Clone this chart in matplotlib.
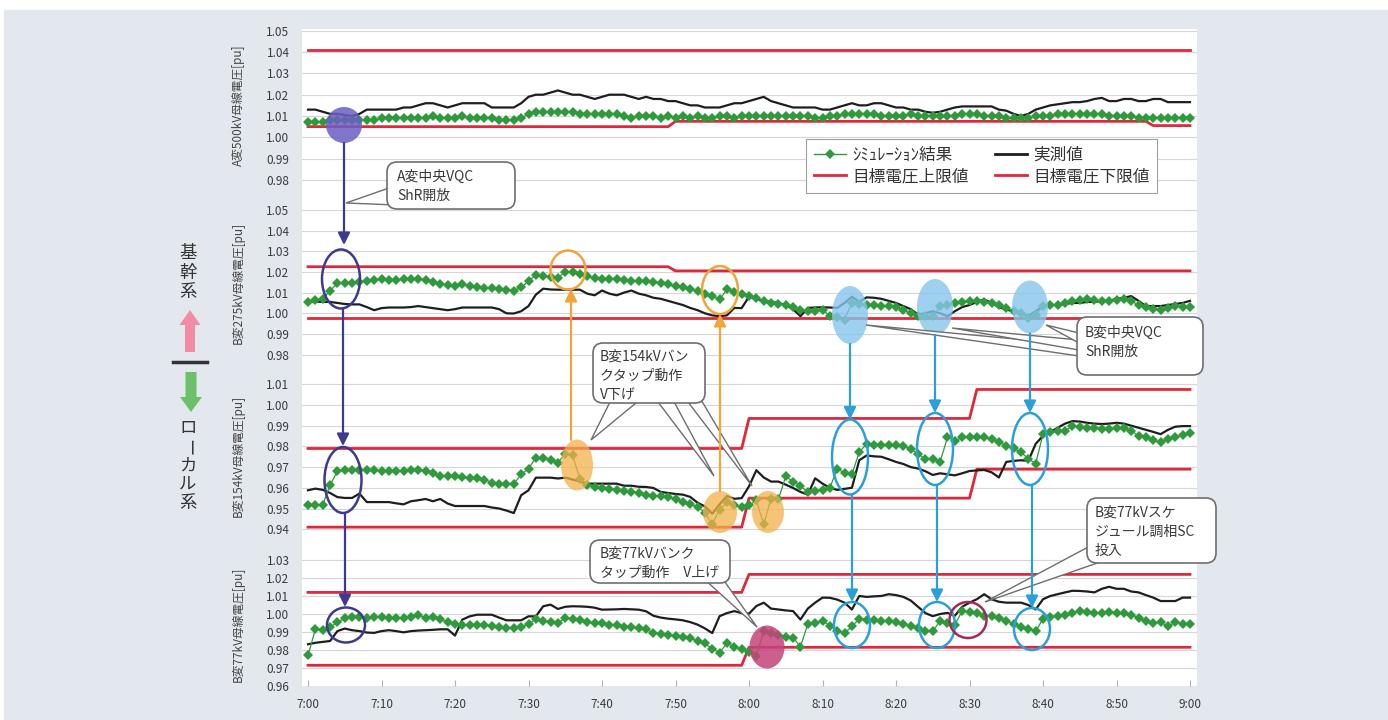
import matplotlib
matplotlib.use("Agg")
import matplotlib.pyplot as plt
from matplotlib.patches import Ellipse, FancyBboxPatch, Polygon, Rectangle, FancyArrow
from matplotlib.lines import Line2D
import numpy as np

plt.rcParams['font.family'] = ['Noto Sans CJK JP', 'DejaVu Sans']

# time axis: minutes after 7:00, one sample per minute
minutes = np.arange(0, 121)
tick_min = [0, 10, 20, 30, 40, 50, 60, 70, 80, 90, 100, 110, 120]
tick_lbl = ['7:00', '7:10', '7:20', '7:30', '7:40', '7:50', '8:00',
            '8:10', '8:20', '8:30', '8:40', '8:50', '9:00']

# A変500kV
sim_a500 = [
    1.007, 1.007, 1.007, 1.008, 1.008, 1.008, 1.008, 1.008, 1.008, 1.008,
    1.009, 1.009, 1.009, 1.009, 1.009, 1.009, 1.009, 1.010, 1.009, 1.009,
    1.009, 1.010, 1.009, 1.009, 1.009, 1.009, 1.008, 1.008, 1.008, 1.009,
    1.011, 1.012, 1.012, 1.012, 1.012, 1.012, 1.012, 1.011, 1.011, 1.011,
    1.011, 1.011, 1.011, 1.010, 1.009, 1.010, 1.010, 1.010, 1.009, 1.010,
    1.009, 1.010, 1.009, 1.010, 1.009, 1.009, 1.010, 1.010, 1.009, 1.010,
    1.010, 1.010, 1.010, 1.010, 1.010, 1.010, 1.010, 1.010, 1.010, 1.009,
    1.009, 1.010, 1.010, 1.011, 1.011, 1.011, 1.011, 1.011, 1.010, 1.010,
    1.010, 1.010, 1.011, 1.010, 1.010, 1.010, 1.010, 1.010, 1.010, 1.011,
    1.011, 1.011, 1.010, 1.010, 1.010, 1.009, 1.009, 1.009, 1.009, 1.010,
    1.010, 1.010, 1.011, 1.011, 1.011, 1.011, 1.011, 1.011, 1.011, 1.010,
    1.010, 1.010, 1.010, 1.009, 1.009, 1.009, 1.009, 1.009, 1.009, 1.009, 1.009]
meas_a500 = [
    1.013, 1.013, 1.012, 1.011, 1.011, 1.0105, 1.010, 1.011, 1.013, 1.013,
    1.013, 1.013, 1.013, 1.014, 1.014, 1.015, 1.016, 1.016, 1.015, 1.014,
    1.015, 1.016, 1.016, 1.016, 1.016, 1.014, 1.014, 1.014, 1.014, 1.016,
    1.019, 1.020, 1.020, 1.021, 1.022, 1.021, 1.020, 1.020, 1.019, 1.018,
    1.019, 1.020, 1.020, 1.020, 1.019, 1.018, 1.019, 1.018, 1.018, 1.017,
    1.017, 1.016, 1.015, 1.015, 1.014, 1.014, 1.014, 1.015, 1.016, 1.016,
    1.017, 1.018, 1.019, 1.017, 1.016, 1.015, 1.014, 1.014, 1.014, 1.014,
    1.013, 1.013, 1.014, 1.015, 1.016, 1.015, 1.015, 1.016, 1.016, 1.015,
    1.014, 1.014, 1.013, 1.013, 1.012, 1.0115, 1.012, 1.013, 1.014, 1.0145,
    1.0145, 1.0145, 1.0145, 1.0145, 1.013, 1.0125, 1.011, 1.010, 1.011, 1.013,
    1.014, 1.015, 1.0155, 1.016, 1.0165, 1.0165, 1.017, 1.018, 1.0185, 1.017,
    1.017, 1.018, 1.018, 1.017, 1.017, 1.018, 1.018, 1.0165, 1.0165, 1.0165, 1.0165]
a500_up_t = [0, 120]
a500_up_v = [1.041, 1.041]
a500_lo_t = [0, 49, 50, 114, 115, 120]
a500_lo_v = [1.005, 1.005, 1.0075, 1.0075, 1.0055, 1.0055]

# B変275kV
sim_b275 = [
    1.0055, 1.0065, 1.0068, 1.011, 1.0145, 1.0148, 1.0148, 1.015, 1.0155, 1.016,
    1.0164, 1.016, 1.016, 1.0165, 1.0167, 1.0167, 1.016, 1.015, 1.0143, 1.0135,
    1.013, 1.014, 1.013, 1.0125, 1.0122, 1.012, 1.0118, 1.0114, 1.011, 1.0125,
    1.0155, 1.0185, 1.018, 1.0175, 1.0172, 1.020, 1.020, 1.019, 1.0178, 1.017,
    1.0168, 1.0168, 1.0165, 1.016, 1.0158, 1.0155, 1.0155, 1.015, 1.0145, 1.014,
    1.013, 1.0126, 1.0115, 1.0107, 1.0095, 1.0083, 1.0067, 1.0115, 1.0105, 1.0095,
    1.0085, 1.0075, 1.006, 1.005, 1.0045, 1.004, 1.003, 1.0018, 1.001, 1.0012,
    1.0018, 0.9986, 0.998, 0.997, 1.005, 1.0045, 1.004, 1.004, 1.0035, 1.0035,
    1.003, 1.0018, 1.000, 0.9986, 0.9986, 0.9986, 1.0035, 1.004, 1.005, 1.0055,
    1.006, 1.006, 1.0055, 1.005, 1.004, 1.0026, 1.001, 1.000, 0.9978, 0.999,
    1.0035, 1.004, 1.004, 1.005, 1.006, 1.0062, 1.0067, 1.0062, 1.006, 1.006,
    1.0062, 1.0067, 1.006, 1.004, 1.003, 1.002, 1.0018, 1.0025, 1.0035, 1.003, 1.003]
meas_b275 = [
    1.0057, 1.0057, 1.0055, 1.0055, 1.005, 1.0045, 1.0043, 1.0043, 1.003, 1.0015,
    1.0025, 1.0028, 1.0028, 1.0028, 1.003, 1.0035, 1.003, 1.0025, 1.002, 1.0015,
    1.002, 1.0028, 1.0028, 1.0028, 1.0028, 1.0028, 1.002, 1.000, 0.9999, 1.001,
    1.0035, 1.009, 1.0119, 1.0115, 1.0114, 1.0114, 1.0114, 1.0114, 1.0095, 1.0087,
    1.011, 1.0095, 1.0087, 1.010, 1.011, 1.0095, 1.0087, 1.0075, 1.007, 1.006,
    1.005, 1.004, 1.0026, 1.0015, 1.000, 0.999, 0.9986, 0.999, 1.0026, 1.0025,
    1.008, 1.007, 1.006, 1.0055, 1.005, 1.004, 1.002, 0.9986, 1.0026, 1.0028,
    1.0029, 1.0028, 1.0026, 1.005, 1.008, 1.0055, 1.0077, 1.0075, 1.007, 1.006,
    1.005, 1.0035, 1.002, 0.9994, 1.000, 1.001, 1.000, 0.9986, 1.001, 1.003,
    1.004, 1.0055, 1.0067, 1.005, 1.003, 1.0018, 1.001, 0.9995, 0.9986, 1.001,
    1.0035, 1.004, 1.004, 1.0045, 1.005, 1.005, 1.0055, 1.0055, 1.006, 1.006,
    1.007, 1.0075, 1.0083, 1.006, 1.0035, 1.0035, 1.0035, 1.004, 1.0045, 1.005, 1.006]
b275_up_t = [0, 49, 50, 120]
b275_up_v = [1.0225, 1.0225, 1.0205, 1.0205]
b275_lo_t = [0, 120]
b275_lo_v = [0.9975, 0.9975]

# B変154kV
sim_b154 = [
    0.9516, 0.9518, 0.9518, 0.9612, 0.9681, 0.9687, 0.9687, 0.9687, 0.9687, 0.9685,
    0.9683, 0.9683, 0.968, 0.9683, 0.9687, 0.9687, 0.9683, 0.967, 0.9655, 0.9655,
    0.9658, 0.9652, 0.9647, 0.9647, 0.964, 0.9625, 0.962, 0.962, 0.9618, 0.9665,
    0.9692, 0.9746, 0.9746, 0.9733, 0.9722, 0.9765, 0.9757, 0.9644, 0.9615, 0.9605,
    0.9598, 0.9595, 0.959, 0.9585, 0.958, 0.9575, 0.9565, 0.956, 0.9558, 0.9555,
    0.9545, 0.953, 0.952, 0.9508, 0.948, 0.9424, 0.9495, 0.953, 0.9515, 0.9505,
    0.9515, 0.9539, 0.9424, 0.9547, 0.9545, 0.9655, 0.963, 0.961, 0.9578, 0.9585,
    0.959, 0.9599, 0.9693, 0.967, 0.9665, 0.9772, 0.9812, 0.9807, 0.9807, 0.9807,
    0.9805, 0.980, 0.9788, 0.9765, 0.9738, 0.9738, 0.9725, 0.9843, 0.9827, 0.9843,
    0.9843, 0.9843, 0.9843, 0.9835, 0.982, 0.9804, 0.979, 0.9772, 0.974, 0.9717,
    0.9859, 0.987, 0.9872, 0.9875, 0.9898, 0.9895, 0.989, 0.9888, 0.9886, 0.9886,
    0.9888, 0.989, 0.9875, 0.985, 0.9843, 0.983, 0.982, 0.9835, 0.9843, 0.9855, 0.9867]
meas_b154 = [
    0.9588, 0.9596, 0.959, 0.9575, 0.9555, 0.9551, 0.9551, 0.9572, 0.9531, 0.9531,
    0.9531, 0.9531, 0.9525, 0.952, 0.9535, 0.954, 0.9546, 0.9535, 0.9546, 0.9524,
    0.9512, 0.9512, 0.9512, 0.9512, 0.9512, 0.9505, 0.950, 0.949, 0.9478, 0.9564,
    0.9588, 0.9649, 0.9649, 0.9649, 0.9645, 0.9649, 0.964, 0.963, 0.962, 0.962,
    0.962, 0.962, 0.962, 0.961, 0.961, 0.9605, 0.9604, 0.9599, 0.958, 0.9575,
    0.957, 0.9567, 0.9556, 0.9528, 0.951, 0.9475, 0.952, 0.956, 0.9547, 0.955,
    0.9607, 0.9685, 0.965, 0.963, 0.963, 0.9615, 0.9599, 0.958, 0.9567, 0.9646,
    0.962, 0.960, 0.959, 0.9595, 0.960, 0.9733, 0.9756, 0.9752, 0.975, 0.9738,
    0.9725, 0.9715, 0.970, 0.9693, 0.968, 0.9662, 0.967, 0.9665, 0.966, 0.967,
    0.9681, 0.9684, 0.9686, 0.9675, 0.965, 0.9725, 0.973, 0.9733, 0.973, 0.9812,
    0.9851, 0.987, 0.989, 0.991, 0.9922, 0.992, 0.9914, 0.991, 0.9908, 0.991,
    0.9914, 0.991, 0.990, 0.989, 0.988, 0.987, 0.9859, 0.988, 0.9895, 0.9898, 0.9898]
b154_up_t = [0, 59, 60, 90, 91, 120]
b154_up_v = [0.979, 0.979, 0.9935, 0.9935, 1.0075, 1.0075]
b154_lo_t = [0, 59, 60, 90, 91, 120]
b154_lo_v = [0.941, 0.941, 0.955, 0.955, 0.969, 0.969]

# B変77kV
sim_b77 = [
    0.977, 0.9915, 0.9912, 0.9925, 0.9955, 0.9975, 0.9983, 0.9986, 0.998, 0.9986,
    0.9986, 0.9975, 0.998, 0.998, 0.9983, 0.9993, 0.998, 0.9986, 0.997, 0.9955,
    0.9947, 0.994, 0.994, 0.994, 0.994, 0.9935, 0.993, 0.9924, 0.992, 0.993,
    0.9943, 0.997, 0.9963, 0.9958, 0.995, 0.9978, 0.9972, 0.9965, 0.9955, 0.995,
    0.9948, 0.994, 0.9938, 0.993, 0.9925, 0.992, 0.9915, 0.9894, 0.989, 0.9885,
    0.988, 0.9872, 0.9865, 0.985, 0.9837, 0.9805, 0.9786, 0.9837, 0.9818, 0.9805,
    0.979, 0.9768, 0.9903, 0.9894, 0.9885, 0.9872, 0.9869, 0.9818, 0.9944, 0.995,
    0.9963, 0.9935, 0.9905, 0.9894, 0.9931, 0.9974, 0.9969, 0.9965, 0.996, 0.996,
    0.9956, 0.9945, 0.9931, 0.992, 0.9907, 0.9903, 0.9963, 0.995, 0.9941, 1.0016,
    1.001, 1.0006, 0.999, 0.999, 0.9975, 0.996, 0.9945, 0.993, 0.9918, 0.9903,
    0.9974, 0.9985, 0.9988, 0.9995, 1.0005, 1.0016, 1.001, 1.0008, 1.0005, 1.001,
    1.0008, 1.0005, 0.9995, 0.998, 0.996, 0.995, 0.9956, 0.9931, 0.9956, 0.9944, 0.9944]
meas_b77 = [
    0.9832, 0.984, 0.9845, 0.985, 0.9905, 0.9919, 0.991, 0.9905, 0.9897, 0.9895,
    0.9905, 0.991, 0.9905, 0.9898, 0.9905, 0.9908, 0.991, 0.9912, 0.9915, 0.9915,
    0.988, 0.9969, 0.9987, 0.9996, 0.9996, 0.9996, 0.998, 0.9965, 0.9965, 0.9965,
    0.9987, 0.9987, 1.0043, 1.0052, 1.0028, 1.004, 1.0043, 1.0042, 1.004, 1.0035,
    1.0024, 1.0025, 1.0026, 1.0028, 1.0026, 1.0024, 1.0015, 0.999, 0.998, 0.9974,
    0.997, 0.9965, 0.9955, 0.9941, 0.992, 0.9894, 0.9988, 1.0005, 1.0016, 1.0005,
    1.0002, 1.0044, 1.0063, 1.003, 1.0025, 1.002, 1.0016, 0.9969, 1.003, 1.0063,
    1.0091, 1.009, 1.008, 1.0063, 1.0025, 1.010, 1.0095, 1.0098, 1.010, 1.011,
    1.0105, 1.0095, 1.0075, 1.004, 1.0005, 0.9988, 1.000, 1.0006, 0.999, 1.004,
    1.0063, 1.0082, 1.011, 1.0082, 1.0068, 1.0063, 1.0063, 1.0063, 1.005, 1.0025,
    1.0082, 1.010, 1.011, 1.012, 1.0129, 1.0128, 1.0125, 1.012, 1.014, 1.0151,
    1.014, 1.014, 1.0125, 1.012, 1.0105, 1.0091, 1.0072, 1.0072, 1.0072, 1.0091, 1.0091]
b77_up_t = [0, 59, 60, 120]
b77_up_v = [1.012, 1.012, 1.022, 1.022]
b77_lo_t = [0, 59, 60, 120]
b77_lo_v = [0.9715, 0.9715, 0.9815, 0.9815]

panel_labels = ['A変500kV母線電圧[pu]', 'B変275kV母線電圧[pu]',
                'B変154kV母線電圧[pu]', 'B変77kV母線電圧[pu]']
legend_labels = ['ｼﾐｭﾚｰｼｮﾝ結果', '実測値', '目標電圧上限値', '目標電圧下限値']

GREEN = '#2e9a3c'
BLACK = '#1e1e1e'
RED = '#e0283a'

W, H = 1388, 720
fig = plt.figure(figsize=(W / 100, H / 100), dpi=100, facecolor='white')

bg = fig.add_axes([0, 0, 1, 1], zorder=-5)
bg.set_xlim(0, W)
bg.set_ylim(H, 0)
bg.axis('off')
bg.add_patch(Rectangle((4, 10), W - 4, H - 10, color='#e3e8ee'))

# panel layout in pixels (top, bottom) and y limits
x_left, x_right = 302, 1197
px_per_min = 7.35
xlim = ((x_left - 308) / px_per_min, (x_right - 308) / px_per_min)

panels = [
    dict(top=29, bot=195, ylim=(0.97291, 1.05085), ticks=np.arange(0.98, 1.0501, 0.01),
         sim=sim_a500, meas=meas_a500, up=(a500_up_t, a500_up_v), lo=(a500_lo_t, a500_lo_v),
         lab_y=105),
    dict(top=195, bot=370, ylim=(0.97261, 1.05715), ticks=np.arange(0.98, 1.0501, 0.01),
         sim=sim_b275, meas=meas_b275, up=(b275_up_t, b275_up_v), lo=(b275_lo_t, b275_lo_v),
         lab_y=283),
    dict(top=370, bot=545, ylim=(0.93237, 1.0169), ticks=np.arange(0.94, 1.0101, 0.01),
         sim=sim_b154, meas=meas_b154, up=(b154_up_t, b154_up_v), lo=(b154_lo_t, b154_lo_v),
         lab_y=456),
    dict(top=545, bot=686, ylim=(0.96, 1.03833), ticks=np.arange(0.96, 1.0301, 0.01),
         sim=sim_b77, meas=meas_b77, up=(b77_up_t, b77_up_v), lo=(b77_lo_t, b77_lo_v),
         lab_y=624),
]

axes = []
for i, p in enumerate(panels):
    ax = fig.add_axes([x_left / W, 1 - p['bot'] / H, (x_right - x_left) / W, (p['bot'] - p['top']) / H])
    ax.set_facecolor('white')
    ax.set_xlim(*xlim)
    ax.set_ylim(*p['ylim'])
    for s in ax.spines.values():
        s.set_visible(False)
    ax.set_yticks(p['ticks'])
    ax.set_yticklabels(['%.2f' % t for t in p['ticks']], fontsize=8.5, color='#3a3a3a')
    ax.tick_params(axis='y', length=0, pad=9)
    ax.yaxis.grid(True, color='#d6d6d6', lw=0.8)
    ax.set_axisbelow(True)
    ax.set_xticks(tick_min)
    if i == 3:
        ax.set_xticklabels(tick_lbl, fontsize=8.5, color='#3a3a3a')
        ax.tick_params(axis='x', direction='in', length=4, color='#b0b0b0', pad=9)
    else:
        ax.tick_params(axis='x', length=0, labelbottom=False)
    ax.plot(p['up'][0], p['up'][1], color=RED, lw=2.0, zorder=2)
    ax.plot(p['lo'][0], p['lo'][1], color=RED, lw=2.0, zorder=2)
    ax.plot(minutes, p['meas'], color=BLACK, lw=1.6, zorder=3)
    ax.plot(minutes, p['sim'], color=GREEN, lw=0.9, marker='D', markersize=4.8,
            markeredgewidth=0, zorder=4)
    axes.append(ax)

handles = [
    Line2D([], [], color=GREEN, lw=1, marker='D', markersize=4.8, markeredgewidth=0),
    Line2D([], [], color=RED, lw=2),
    Line2D([], [], color=BLACK, lw=2),
    Line2D([], [], color=RED, lw=2),
]
leg = axes[0].legend(handles, [legend_labels[0], legend_labels[2], legend_labels[1], legend_labels[3]],
                     ncol=2, loc='upper left',
                     bbox_to_anchor=((798 - x_left) / (x_right - x_left), (195 - 131) / (195 - 29)),
                     fontsize=12, frameon=True, fancybox=False, framealpha=1,
                     edgecolor='#a0a0a0', handlelength=1.9, columnspacing=1.6,
                     labelspacing=0.25, borderpad=0.45, handletextpad=0.4)
leg.get_frame().set_linewidth(0.8)
for t in leg.get_texts():
    t.set_color('#333333')

# overlay for annotations, in pixel coordinates (y downwards)
ov = fig.add_axes([0, 0, 1, 1], zorder=10)
ov.set_xlim(0, W)
ov.set_ylim(H, 0)
ov.axis('off')
ov.patch.set_alpha(0)

for p, lab in zip(panels, panel_labels):
    ov.text(238, p['lab_y'], lab, rotation=90, ha='center', va='center', fontsize=8.5, color='#444444')


def ell(cx, cy, w, h, ec='none', fc='none', alpha=1.0, lw=1.8):
    ov.add_patch(Ellipse((cx, cy), w, h, edgecolor=ec, facecolor=fc, alpha=alpha, lw=lw))


def arrow(x, y0, y1, color):
    ov.annotate('', xy=(x, y1), xytext=(x, y0),
                arrowprops=dict(arrowstyle='-|>', color=color, lw=1.6, mutation_scale=18,
                                shrinkA=0, shrinkB=0))


def callout(x0, y0, x1, y1, lines, tx, ty, wedges):
    for wd in wedges:
        ov.add_patch(Polygon(wd, closed=True, facecolor='white', edgecolor='#6e6e6e', lw=1.0))
    ov.add_patch(FancyBboxPatch((x0, y0), x1 - x0, y1 - y0,
                                boxstyle='round,pad=0,rounding_size=10',
                                facecolor='white', edgecolor='#6e6e6e', lw=1.2))
    for k, ln in enumerate(lines):
        ov.text(tx, ty + k * 19, ln, ha='left', va='center', fontsize=10, color='#3a3a3a')


PURPLE = '#3d3a8f'
ORANGE = '#f0a43a'
BLUE = '#2b9fd9'

# purple: A変 ShR open, propagating down
ell(344, 125, 36, 36, fc='#6a5fc4', alpha=0.85)
arrow(344, 143, 245, PURPLE)
ell(341, 279, 38, 59, ec=PURPLE)
arrow(343, 308, 446, PURPLE)
ell(343, 480, 37, 66, ec=PURPLE)
arrow(345, 513, 607, PURPLE)
ell(346, 625, 38, 35, ec=PURPLE)

# orange: B変154kV tap
ell(568, 270, 35, 39, ec=ORANGE)
ell(720, 290, 36, 48, ec=ORANGE)
ell(577, 465, 32, 51, fc='#f4b14a', alpha=0.75)
ell(720, 512, 34, 42, fc='#f4b14a', alpha=0.75)
ell(768, 512, 32, 42, fc='#f4b14a', alpha=0.75)
arrow(571, 440, 289, ORANGE)
arrow(720, 491, 314, ORANGE)

# blue: B変中央VQC ShR open
for cx, cy, h, y3c, h3, y4c, h4 in [(850, 315, 58, 457, 75, 625, 46),
                                     (935, 307, 56, 449, 72, 625, 46),
                                     (1030, 307, 53, 449, 72, 629, 42)]:
    ell(cx, cy, 36, h, fc='#86c5ec', alpha=0.8)
    arrow(cx, cy + h / 2, y3c - h3 / 2, BLUE)
    ell(cx, y3c, 36, h3, ec=BLUE)
    arrow(cx + 2, y3c + h3 / 2, y4c - h4 / 2, BLUE)
    ell(cx + 2, y4c, 36, h4, ec=BLUE)

# pink / magenta in B変77kV panel
ell(767, 647, 35, 43, fc='#c4437a', alpha=0.85)
ell(968, 620, 37, 36, ec='#a02a5a')

callout(387, 162, 515, 209, ['A変中央VQC', 'ShR開放'], 397, 177,
        [[(389, 188), (396, 205), (346, 203)]])
callout(593, 343, 705, 403, ['B変154kVバン', 'クタップ動作', 'V下げ'], 600, 357,
        [[(612, 398), (642, 398), (591, 440)],
         [(655, 398), (672, 398), (714, 476)],
         [(685, 398), (700, 398), (752, 486)]])
callout(1077, 317, 1203, 375, ['B変中央VQC', 'ShR開放'], 1085, 333,
        [[(1079, 345), (1079, 356), (866, 325)],
         [(1079, 340), (1079, 350), (952, 328)],
         [(1079, 333), (1079, 343), (1046, 325)]])
callout(590, 540, 730, 583, ['B変77kVバンク', 'タップ動作　V上げ'], 600, 554,
        [[(703, 578), (722, 578), (757, 627)]])
callout(1087, 498, 1216, 563, ['B変77kVスケ', 'ジュール調相SC', '投入'], 1095, 513,
        [[(1092, 545), (1106, 560), (985, 602)]])

# left side: trunk / local system labels
for ch, y in zip('基幹系', [253, 273, 292]):
    ov.text(188, y, ch, ha='center', va='center', fontsize=12.5, color='#333333')
ov.add_patch(FancyArrow(190, 352, 0, -42, width=10, head_width=21, head_length=15,
                        length_includes_head=True, color='#f28ca4', lw=0))
ov.plot([173, 207], [362, 362], color='#333333', lw=2.5)
ov.add_patch(FancyArrow(191, 372, 0, 40, width=11, head_width=22, head_length=15,
                        length_includes_head=True, color='#6cc06a', lw=0))
for ch, y in zip('ローカル系', [428, 448, 466, 484, 503]):
    ov.text(188, y, ch, ha='center', va='center', fontsize=12.5, color='#333333',
            rotation=-90 if ch == 'ー' else 0)

fig.savefig('out.png', dpi=100, facecolor='white')
